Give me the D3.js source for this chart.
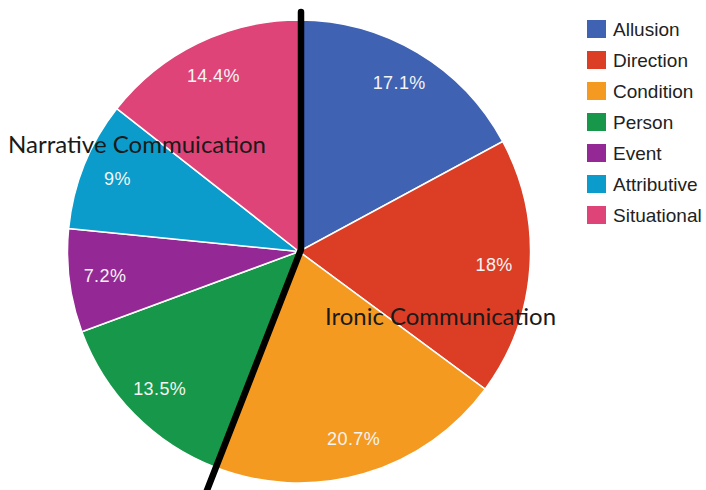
<!DOCTYPE html>
<html>
<head>
<meta charset="utf-8">
<script src="https://cdn.jsdelivr.net/npm/d3@7"></script>
<style>
  html, body { margin: 0; padding: 0; background: #fff; }
  svg { display: block; }
</style>
</head>
<body>
<svg id="chart" width="706" height="490"></svg>
<script>
// Categories of communication and their shares (percent)
const categories = ["Allusion", "Direction", "Condition", "Person", "Event", "Attributive", "Situational"];
const shares = [17.1, 18, 20.7, 13.5, 7.2, 9, 14.4];
const shareLabels = ["17.1%", "18%", "20.7%", "13.5%", "7.2%", "9%", "14.4%"];
const colors = ["#3f62b3", "#dc3d25", "#f59a21", "#179749", "#942894", "#0b9ccb", "#de4478"];
// Groups split by the divider: the first three categories form one group
const groupNames = ["Ironic Communication", "Narrative Commuication"];
const ironicCount = 3;

const width = 706, height = 490;
const cx = 299, cy = 251.5, radius = 231.5;

const svg = d3.select("#chart");
const g = svg.append("g").attr("transform", `translate(${cx},${cy})`);

const data = categories.map((c, i) => ({ name: c, value: shares[i], label: shareLabels[i], color: colors[i] }));

const pie = d3.pie().value(d => d.value).sort(null);
const arcs = pie(data);
const arc = d3.arc().innerRadius(0).outerRadius(radius);
const labelArc = d3.arc().innerRadius(radius * 0.845).outerRadius(radius * 0.845);

// Slices
g.selectAll("path.slice")
  .data(arcs)
  .join("path")
  .attr("class", "slice")
  .attr("d", arc)
  .attr("fill", d => d.data.color)
  .attr("stroke", "#fff")
  .attr("stroke-width", 1.5);

// Percentage labels
g.selectAll("text.pct")
  .data(arcs)
  .join("text")
  .attr("class", "pct")
  .attr("transform", d => `translate(${labelArc.centroid(d)})`)
  .attr("text-anchor", "middle")
  .attr("dominant-baseline", "central")
  .attr("font-family", "'Liberation Sans', Arial, sans-serif")
  .attr("font-size", 18)
  .attr("letter-spacing", 0.4)
  .attr("fill", "#f4f4f4")
  .text(d => d.data.label);

// Divider between the two groups: along the start of the first slice
// and along the end of the last slice of the first group
const splitAngle = arcs[ironicCount - 1].endAngle;
const topAngle = arcs[0].startAngle;
const topR = radius + 8, bottomR = radius + 32;
const dividerPts = [
  [topR * Math.sin(topAngle) + 2, -topR * Math.cos(topAngle)],
  [2, -2],
  [bottomR * Math.sin(splitAngle), -bottomR * Math.cos(splitAngle)]
];
g.append("path")
  .attr("d", d3.line()(dividerPts))
  .attr("fill", "none")
  .attr("stroke", "#000")
  .attr("stroke-width", 6.5)
  .attr("stroke-linejoin", "round")
  .attr("stroke-linecap", "round");

// Group annotations
svg.append("text")
  .attr("x", 325).attr("y", 325)
  .attr("font-family", "Lato, 'Open Sans', sans-serif")
  .attr("font-size", 22.5)
  .attr("fill", "#1a1a1a")
  .attr("textLength", 231)
  .attr("lengthAdjust", "spacingAndGlyphs")
  .text(groupNames[0]);

svg.append("text")
  .attr("x", 8).attr("y", 153)
  .attr("font-family", "Lato, 'Open Sans', sans-serif")
  .attr("font-size", 22.5)
  .attr("fill", "#1a1a1a")
  .attr("textLength", 258)
  .attr("lengthAdjust", "spacingAndGlyphs")
  .text(groupNames[1]);

// Legend
const legendY = d3.scalePoint().domain(categories).range([29, 215]);
const legend = svg.append("g");
const items = legend.selectAll("g.item")
  .data(data)
  .join("g")
  .attr("class", "item")
  .attr("transform", d => `translate(587,${legendY(d.name)})`);
items.append("rect")
  .attr("x", 0).attr("y", -9)
  .attr("width", 19).attr("height", 18)
  .attr("fill", d => d.color);
items.append("text")
  .attr("x", 26).attr("y", 0)
  .attr("dominant-baseline", "central")
  .attr("font-family", "'Liberation Sans', Arial, sans-serif")
  .attr("font-size", 19)
  .attr("fill", "#222")
  .text(d => d.name);
</script>
</body>
</html>
